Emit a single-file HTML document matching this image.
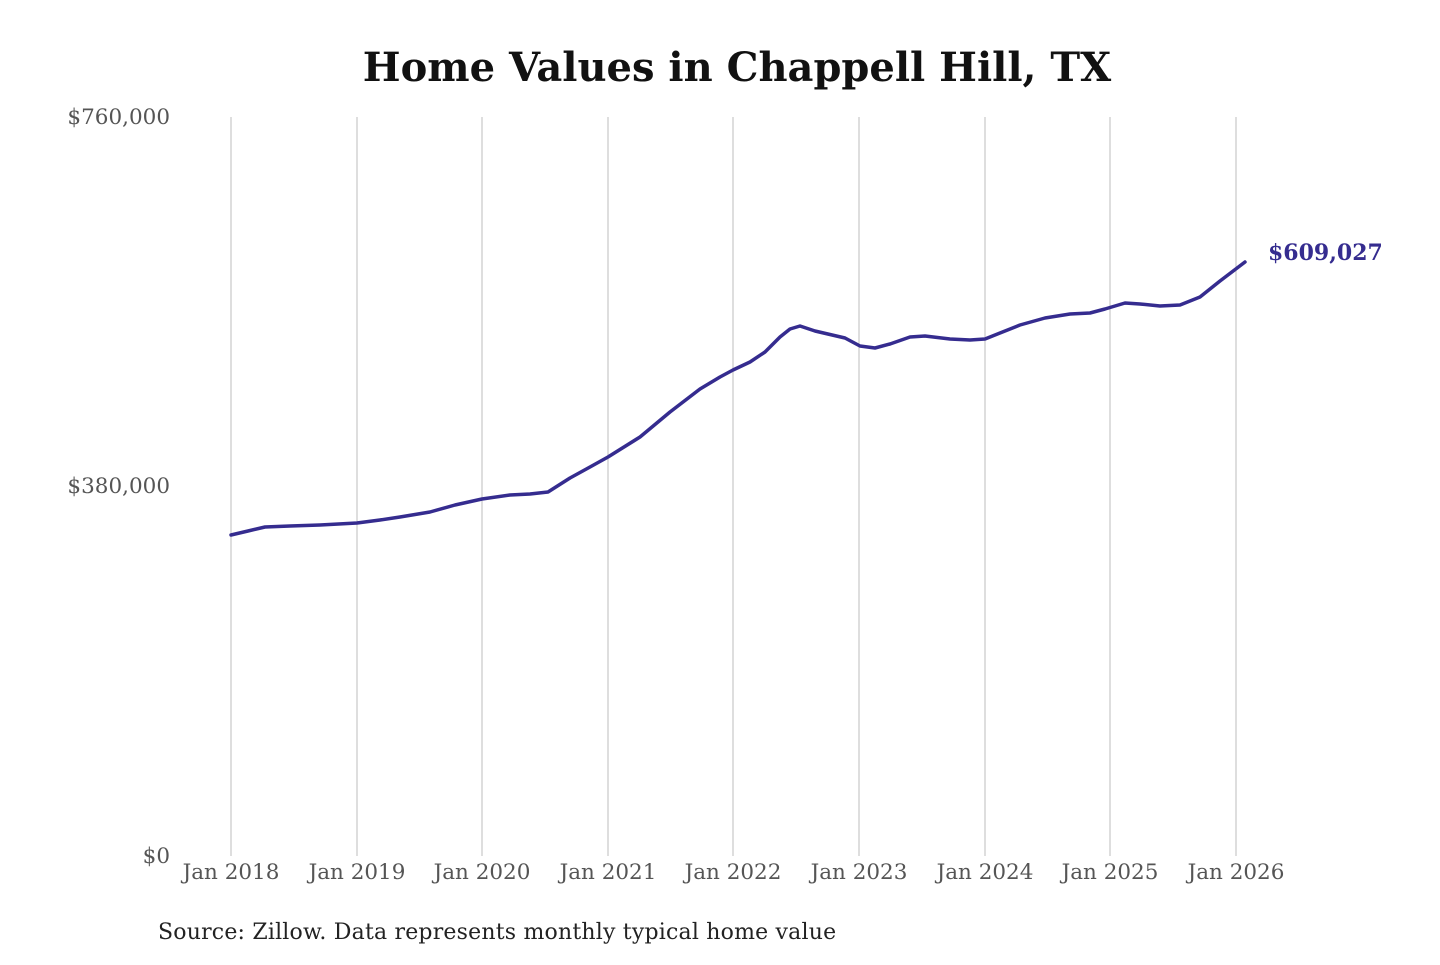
<!DOCTYPE html>
<html><head><meta charset="utf-8"><style>
html,body{margin:0;padding:0;background:#fff;}
svg text{font-family:"DejaVu Serif","Liberation Serif",serif;}
</style></head><body>
<svg width="1440" height="960" viewBox="0 0 1440 960" xmlns="http://www.w3.org/2000/svg">
<text x="737" y="81" text-anchor="middle" font-size="40" font-weight="bold" fill="#111">Home Values in Chappell Hill, TX</text>
<g stroke="#bdbdbd" stroke-width="1">
<line x1="231" y1="117" x2="231" y2="856"/>
<line x1="357" y1="117" x2="357" y2="856"/>
<line x1="482" y1="117" x2="482" y2="856"/>
<line x1="608" y1="117" x2="608" y2="856"/>
<line x1="733" y1="117" x2="733" y2="856"/>
<line x1="859" y1="117" x2="859" y2="856"/>
<line x1="985" y1="117" x2="985" y2="856"/>
<line x1="1110" y1="117" x2="1110" y2="856"/>
<line x1="1236" y1="117" x2="1236" y2="856"/>
</g>
<g font-size="21.5" fill="#555" text-anchor="end">
<text x="170" y="124">$760,000</text>
<text x="170" y="493">$380,000</text>
<text x="170" y="863">$0</text>
</g>
<g font-size="21.5" fill="#555" text-anchor="middle">
<text x="231" y="879">Jan 2018</text>
<text x="357" y="879">Jan 2019</text>
<text x="482" y="879">Jan 2020</text>
<text x="608" y="879">Jan 2021</text>
<text x="733" y="879">Jan 2022</text>
<text x="859" y="879">Jan 2023</text>
<text x="985" y="879">Jan 2024</text>
<text x="1110" y="879">Jan 2025</text>
<text x="1236" y="879">Jan 2026</text>
</g>
<polyline fill="none" stroke="#352c8f" stroke-width="3.5" stroke-linejoin="round" stroke-linecap="round"
points="231,535 248,531 265,527 290,526 320,525 357,523 380,520 400,517 430,512 455,505 482,499 510,495 530,494 548,492 570,478 590,467 608,457 640,437 670,412 700,389 720,377 733,370 750,362 765,352 780,337 790,329 800,326 815,331 845,338 860,346 875,348 890,344 910,337 925,336 950,339 970,340 985,339 1000,333 1020,325 1045,318 1070,314 1090,313 1105,309 1125,303 1140,304 1160,306 1180,305 1200,297 1220,281 1245,262"/>
<text x="1268" y="260" font-size="22" font-weight="bold" fill="#352c8f">$609,027</text>
<text x="158" y="939" font-size="22" fill="#222" letter-spacing="0.2">Source: Zillow. Data represents monthly typical home value</text>
</svg>
</body></html>
